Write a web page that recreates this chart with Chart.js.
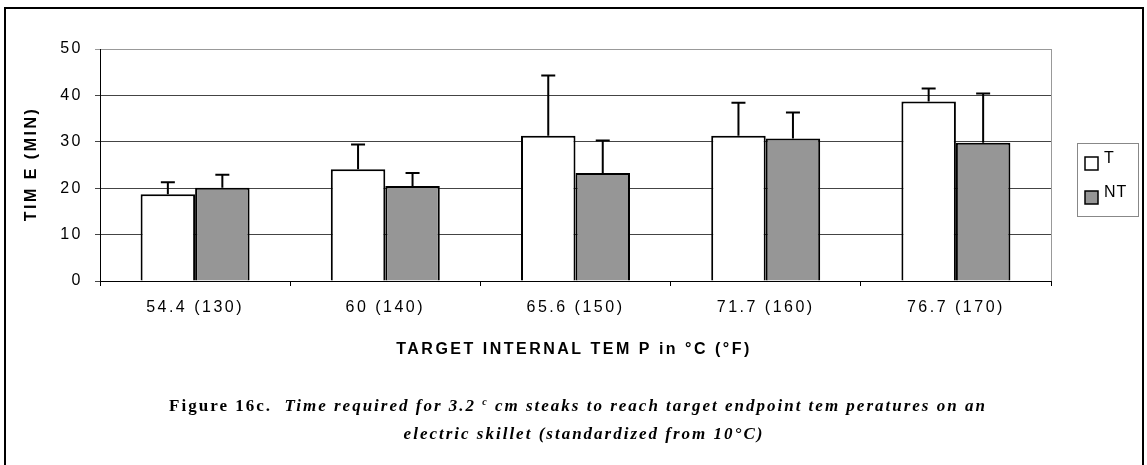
<!DOCTYPE html>
<html>
<head>
<meta charset="utf-8">
<script src="https://cdn.jsdelivr.net/npm/chart.js@4/dist/chart.umd.min.js"></script>
<style>
  html, body { margin: 0; padding: 0; background: #fff; }
  #wrap { width: 1147px; height: 465px; }
</style>
</head>
<body>
<div id="wrap"><canvas id="timeChart" width="1147" height="465"></canvas></div>
<script>
// cooking time per target temperature, mean and upper error
var categories = ['54.4 (130)', '60 (140)', '65.6 (150)', '71.7 (160)', '76.7 (170)'];
var seriesNames = ['T', 'NT'];
var timeT = [18.7, 24.1, 31.3, 31.3, 38.7];
var timeNT = [20.1, 20.5, 23.3, 30.7, 29.8];
var errT = [2.6, 5.3, 13.0, 7.1, 2.8];
var errNT = [2.8, 2.8, 7.0, 5.6, 10.6];
var yTicks = [0, 10, 20, 30, 40, 50];
var yTitle = 'TIM E (MIN)';
var xTitle = 'TARGET INTERNAL TEM P in \u00B0C (\u00B0F)';
var captionHead = 'Figure 16c.';
var captionText1 = 'Time required for 3.2 ';
var captionSup = 'c';
var captionText2 = ' cm steaks to reach target endpoint tem peratures on an';
var captionLine2 = 'electric skillet (standardized from 10\u00B0C)';

var SANS = '"Liberation Sans", Arial, sans-serif';
var SERIF = '"Liberation Serif", "Times New Roman", serif';
var SPACING = '2.5px';

function textRun(ctx, str, x, y, font, spacing) {
    ctx.font = font;
    ctx.letterSpacing = spacing || '0px';
    ctx.fillText(str, x, y);
    return ctx.measureText(str).width;
}

function runsWidth(ctx, runs) {
    var w = 0;
    runs.forEach(function (r) {
        ctx.font = r.font;
        ctx.letterSpacing = r.spacing;
        w += ctx.measureText(r.text).width;
    });
    return w;
}

function drawRuns(ctx, runs, cx, y) {
    var x = cx - runsWidth(ctx, runs) / 2;
    runs.forEach(function (r) {
        x += textRun(ctx, r.text, x, y + (r.dy || 0), r.font, r.spacing);
    });
}

// wide letter spacing for the axis tick labels
var spacingPlugin = {
    id: 'spacing',
    beforeLayout: function (chart) { chart.ctx.letterSpacing = SPACING; },
    beforeDraw: function (chart) { chart.ctx.letterSpacing = SPACING; }
};

// one-sided error bars on top of each bar
var errorBars = {
    id: 'errorBars',
    afterDatasetsDraw: function (chart) {
        var ctx = chart.ctx;
        var y = chart.scales.y;
        chart.data.datasets.forEach(function (ds, i) {
            var meta = chart.getDatasetMeta(i);
            meta.data.forEach(function (bar, j) {
                var top = y.getPixelForValue(ds.data[j] + ds.errors[j]);
                ctx.save();
                ctx.strokeStyle = '#000';
                ctx.lineWidth = 2;
                ctx.beginPath();
                ctx.moveTo(bar.x, bar.y);
                ctx.lineTo(bar.x, top);
                ctx.moveTo(bar.x - 7, top);
                ctx.lineTo(bar.x + 7, top);
                ctx.stroke();
                ctx.restore();
            });
        });
    }
};

// frame, plot border, axis titles, legend and caption
var decorations = {
    id: 'decorations',
    afterDraw: function (chart) {
        var ctx = chart.ctx;
        var area = chart.chartArea;
        ctx.save();

        // plot area right edge
        ctx.strokeStyle = '#999';
        ctx.lineWidth = 1;
        ctx.beginPath();
        ctx.moveTo(area.right + 0.5, area.top);
        ctx.lineTo(area.right + 0.5, area.bottom);
        ctx.stroke();

        // outer frame
        ctx.strokeStyle = '#000';
        ctx.lineWidth = 2;
        ctx.beginPath();
        ctx.moveTo(5, 465);
        ctx.lineTo(5, 8);
        ctx.lineTo(1143, 8);
        ctx.lineTo(1143, 465);
        ctx.stroke();

        ctx.fillStyle = '#000';
        ctx.textBaseline = 'middle';
        ctx.textAlign = 'center';

        // y title
        ctx.save();
        ctx.translate(32, 164);
        ctx.rotate(-Math.PI / 2);
        textRun(ctx, yTitle, 0, 0, 'bold 16px ' + SANS, SPACING);
        ctx.restore();

        // x title
        textRun(ctx, xTitle, 574, 350, 'bold 16px ' + SANS, SPACING);

        // legend
        ctx.strokeStyle = '#888';
        ctx.lineWidth = 1;
        ctx.strokeRect(1077.5, 143.5, 61, 73);
        var sw = [{ y: 157, ds: chart.data.datasets[0] }, { y: 191, ds: chart.data.datasets[1] }];
        ctx.textAlign = 'left';
        ctx.textBaseline = 'top';
        sw.forEach(function (s) {
            ctx.fillStyle = s.ds.backgroundColor;
            ctx.fillRect(1085, s.y, 13, 13);
            ctx.strokeStyle = '#000';
            ctx.lineWidth = 1.5;
            ctx.strokeRect(1085, s.y, 13, 13);
            ctx.fillStyle = '#000';
            textRun(ctx, s.ds.label, 1104, s.y - 6, '16px ' + SANS, '1px');
        });

        // caption
        ctx.textAlign = 'left';
        ctx.textBaseline = 'middle';
        var bi = 'italic bold 17px ' + SERIF;
        drawRuns(ctx, [
            { text: captionHead, font: 'bold 17px ' + SERIF, spacing: '2px' },
            { text: '  ' + captionText1, font: bi, spacing: '2px' },
            { text: captionSup, font: 'italic bold 10px ' + SERIF, spacing: '2px', dy: -5 },
            { text: captionText2, font: bi, spacing: '2px' }
        ], 578, 407);
        drawRuns(ctx, [
            { text: captionLine2, font: bi, spacing: '2px' }
        ], 584, 435);

        ctx.restore();
    }
};

var ctx = document.getElementById('timeChart');
var timeChart = new Chart(ctx, {
    type: 'bar',
    data: {
        labels: categories,
        datasets: [
            {
                label: seriesNames[0],
                data: timeT,
                errors: errT,
                backgroundColor: '#ffffff',
                borderColor: '#000000',
                borderWidth: 2
            },
            {
                label: seriesNames[1],
                data: timeNT,
                errors: errNT,
                backgroundColor: '#969696',
                borderColor: '#000000',
                borderWidth: 2
            }
        ]
    },
    options: {
        responsive: false,
        animation: false,
        devicePixelRatio: 1,
        layout: { padding: { top: 49, right: 96, left: 0, bottom: 0 } },
        datasets: {
            bar: { categoryPercentage: 0.573, barPercentage: 1.0 }
        },
        plugins: {
            legend: { display: false },
            tooltip: { enabled: false }
        },
        scales: {
            x: {
                offset: true,
                grid: {
                    display: true,
                    offset: true,
                    drawOnChartArea: false,
                    drawTicks: true,
                    tickLength: 5,
                    color: '#000'
                },
                border: { display: true, color: '#000', width: 1 },
                ticks: {
                    color: '#000',
                    padding: 12,
                    maxRotation: 0,
                    font: { family: SANS, size: 16 }
                },
                afterFit: function (scale) { scale.height = 184; }
            },
            y: {
                min: 0,
                max: 50,
                afterBuildTicks: function (scale) {
                    scale.ticks = yTicks.map(function (v) { return { value: v }; });
                },
                grid: {
                    drawTicks: true,
                    tickLength: 5,
                    color: function (c) { return c.tick && c.tick.value === 50 ? '#999' : '#444'; }
                },
                border: { display: true, color: '#000', width: 1 },
                ticks: {
                    color: '#000',
                    padding: 12,
                    font: { family: SANS, size: 16 }
                },
                afterFit: function (scale) { scale.width = 100; }
            }
        }
    },
    plugins: [spacingPlugin, errorBars, decorations]
});
</script>
</body>
</html>
